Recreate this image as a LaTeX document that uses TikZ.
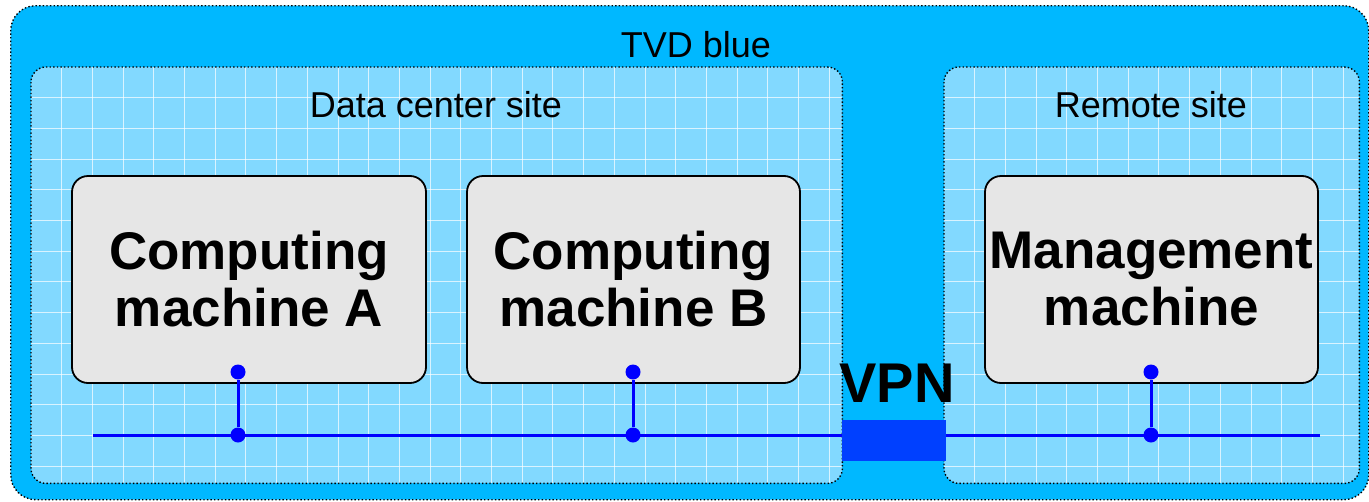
\documentclass[tikz,border=0pt]{standalone}
\usepackage{fontspec}
\setmainfont{Liberation Sans}
\definecolor{tvdblue}{RGB}{0,184,255}
\definecolor{siteblue}{RGB}{130,217,255}
\definecolor{machinegray}{RGB}{230,230,230}
\definecolor{busblue}{RGB}{0,0,255}
\definecolor{vpnblue}{RGB}{0,64,255}
\begin{document}
\begin{tikzpicture}[x=1pt,y=-1pt,
  dotborder/.style={draw=black, line width=1.4pt, dash pattern=on 1.4pt off 2.2pt},
  zone/.style={dotborder, fill=tvdblue, rounded corners=25pt, inner sep=0pt},
  sitearea/.style={fill=siteblue, rounded corners=15pt, inner sep=0pt},
  siteedge/.style={dotborder, rounded corners=15pt},
  gridline/.style={white, opacity=0.7, line width=0.9pt},
  machine/.style={draw=black, line width=1.8pt, fill=machinegray, rounded corners=16pt,
    inner sep=0pt, minimum width=354pt, minimum height=207pt, align=center,
    font=\fontsize{53}{57}\selectfont\bfseries},
  sitelabel/.style={font=\fontsize{36}{40}\selectfont, inner sep=0pt},
  bus/.style={busblue, line width=3pt},
  tap/.style={circle, fill=busblue, inner sep=0pt, minimum size=15pt},
  vpnbox/.style={fill=vpnblue, inner sep=0pt, minimum width=104pt, minimum height=41pt},
]
\useasboundingbox (0,0) rectangle (1369,501);

% outer zone
\node[zone, anchor=north west, minimum width=1358pt, minimum height=494pt] (tvd) at (10,5) {};
\node[sitelabel] (tvdlabel) at (696,45) {TVD blue};

% sites
\node[sitearea, anchor=north west, minimum width=811pt, minimum height=416pt] (dc) at (31,67) {};
\node[sitearea, anchor=north west, minimum width=415pt, minimum height=416pt] (rs) at (944,67) {};

\begin{scope}
  \clip[rounded corners=15pt] (dc.north west) rectangle (dc.south east);
  \foreach \i in {1,...,26} \draw[gridline] (31+30.7*\i,67) -- (31+30.7*\i,483);
  \foreach \j in {1,...,13} \draw[gridline] (31,67+30.7*\j) -- (842,67+30.7*\j);
\end{scope}
\begin{scope}
  \clip[rounded corners=15pt] (rs.north west) rectangle (rs.south east);
  \foreach \i in {1,...,13} \draw[gridline] (944+30.7*\i,67) -- (944+30.7*\i,483);
  \foreach \j in {1,...,13} \draw[gridline] (944,67+30.7*\j) -- (1359,67+30.7*\j);
\end{scope}
\draw[siteedge] (dc.north west) rectangle (dc.south east);
\draw[siteedge] (rs.north west) rectangle (rs.south east);

\node[sitelabel] (dclabel) at (436,105) {Data center site};
\node[sitelabel] (rslabel) at (1151,105) {Remote site};

% machines
\node[machine] (ma) at (249,279.5) {Computing\\machine A};
\node[machine, minimum width=333pt] (mb) at (633.5,279.5) {Computing\\machine B};
\node[machine, minimum width=333pt] (mm) at (1151.5,279.5) {Management\\machine};

% network bus
\coordinate (busL) at (93,435);
\coordinate (busR) at (1320,435);
\draw[bus] (busL) -- (busR);
\node[vpnbox] (vpn) at (894,440.5) {};
\node[font=\fontsize{56}{60}\selectfont\bfseries, inner sep=0pt, anchor=base] (vpnlabel) at (897,402) {VPN};

% taps
\node[tap] (ta) at (238,372) {};
\node[tap] (ja) at (238,435) {};
\node[tap] (tb) at (633,372) {};
\node[tap] (jb) at (633,435) {};
\node[tap] (tm) at (1151,372) {};
\node[tap] (jm) at (1151,435) {};
\draw[bus] (ta) -- (ja);
\draw[bus] (tb) -- (jb);
\draw[bus] (tm) -- (jm);
\end{tikzpicture}
\end{document}
